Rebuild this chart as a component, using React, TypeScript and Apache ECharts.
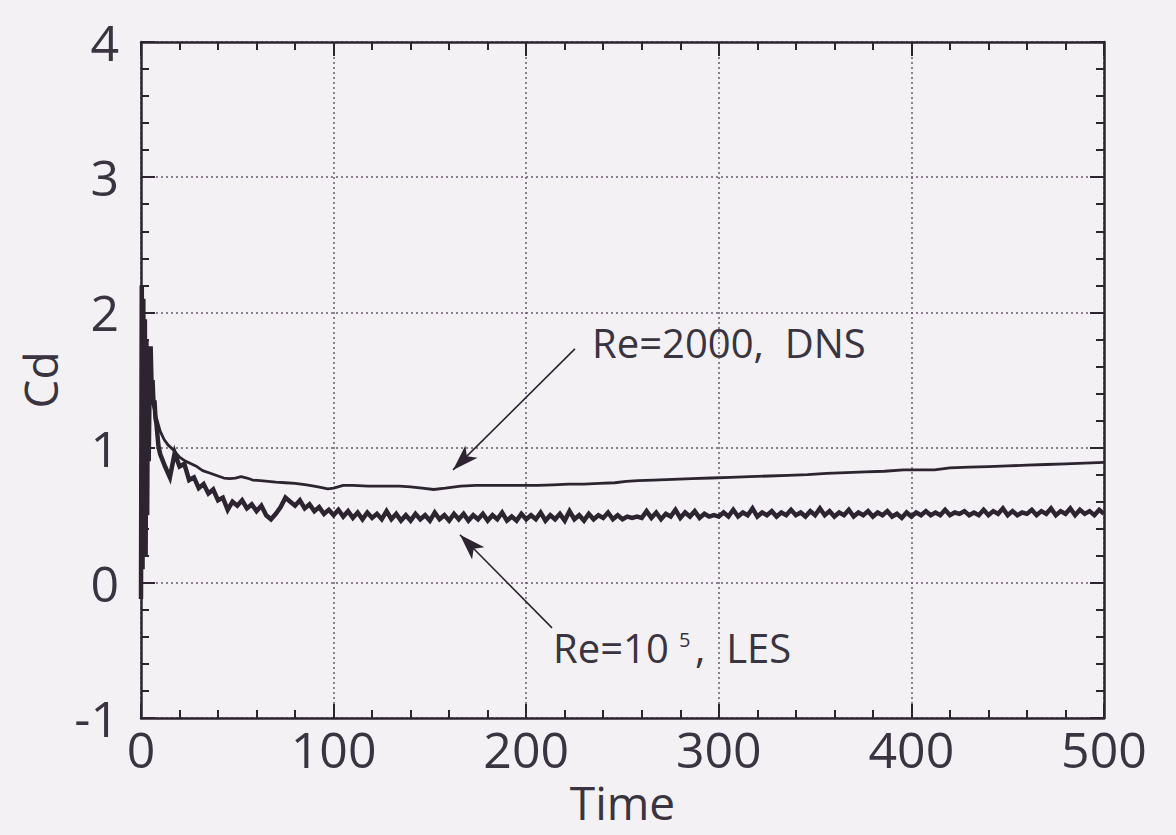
import React, { useEffect, useRef } from "react";
import * as echarts from "echarts";

// ---- data ----
const dnsTime = [
  0, 0.5, 1, 1.5, 2, 2.5, 3, 4, 5, 6, 8, 10, 12, 14, 17, 20, 23, 26, 29, 32,
  36, 40, 43, 46, 49, 52, 55, 58, 62, 66, 70, 75, 80, 86, 92, 97, 100, 105, 110, 118,
  126, 134, 140, 146, 152, 158, 166, 174, 182, 190, 198, 206, 214, 222, 230, 238, 246, 252, 258, 266,
  276, 286, 296, 306, 316, 326, 336, 346, 356, 366, 376, 386, 396, 404, 412, 420, 430, 440, 450, 460,
  470, 480, 490, 500,
];
const dnsCd = [
  0.3, 2.1, 1.0, 1.9, 0.9, 1.6, 1.2, 1.45, 1.38, 1.33, 1.22, 1.12, 1.06, 1.02, 0.98, 0.93, 0.9, 0.88, 0.86, 0.83,
  0.81, 0.79, 0.775, 0.77, 0.775, 0.785, 0.775, 0.76, 0.755, 0.75, 0.745, 0.74, 0.735, 0.725, 0.71, 0.695, 0.7, 0.72, 0.72, 0.715,
  0.715, 0.715, 0.71, 0.7, 0.69, 0.7, 0.715, 0.72, 0.72, 0.72, 0.72, 0.72, 0.725, 0.73, 0.73, 0.735, 0.74, 0.75, 0.755, 0.76,
  0.765, 0.77, 0.775, 0.78, 0.785, 0.79, 0.795, 0.8, 0.81, 0.815, 0.82, 0.825, 0.835, 0.835, 0.835, 0.85, 0.855, 0.86, 0.865, 0.87,
  0.875, 0.88, 0.885, 0.89,
];

const lesTime = [
  0, 0.4, 0.8, 1.2, 1.6, 2, 2.4, 2.8, 3.2, 3.6, 4, 4.5, 5, 5.5, 6, 6.5, 7, 7.5, 8, 8.5, 9, 9.5,
  10, 12.5, 15, 17.5, 20, 22.5, 25, 27.5,
  30, 32.5, 35, 37.5, 40, 42.5, 45, 47.5, 50, 52.5, 55, 57.5, 60, 62.5, 65, 67.5, 70, 72.5, 75, 77.5,
  80, 82.5, 85, 87.5, 90, 92.5, 95, 97.5, 100,
  102.5, 105, 107.5, 110, 112.5, 115, 117.5, 120, 122.5, 125, 127.5, 130, 132.5, 135, 137.5, 140, 142.5, 145, 147.5, 150,
  152.5, 155, 157.5, 160, 162.5, 165, 167.5, 170, 172.5, 175, 177.5, 180, 182.5, 185, 187.5, 190, 192.5, 195, 197.5, 200,
  202.5, 205, 207.5, 210, 212.5, 215, 217.5, 220, 222.5, 225, 227.5, 230, 232.5, 235, 237.5, 240, 242.5, 245, 247.5, 250,
  252.5, 255, 257.5, 260, 262.5, 265, 267.5, 270, 272.5, 275, 277.5, 280, 282.5, 285, 287.5, 290, 292.5, 295, 297.5, 300,
  302.5, 305, 307.5, 310, 312.5, 315, 317.5, 320, 322.5, 325, 327.5, 330, 332.5, 335, 337.5, 340, 342.5, 345, 347.5, 350,
  352.5, 355, 357.5, 360, 362.5, 365, 367.5, 370, 372.5, 375, 377.5, 380, 382.5, 385, 387.5, 390, 392.5, 395, 397.5, 400,
  402.5, 405, 407.5, 410, 412.5, 415, 417.5, 420, 422.5, 425, 427.5, 430, 432.5, 435, 437.5, 440, 442.5, 445, 447.5, 450,
  452.5, 455, 457.5, 460, 462.5, 465, 467.5, 470, 472.5, 475, 477.5, 480, 482.5, 485, 487.5, 490, 492.5, 495, 497.5, 500,
];
const lesCd = [
  -0.12, 2.2, 0.1, 2.1, 0.3, 1.95, 0.2, 1.8, 0.5, 1.6, 0.9, 1.5, 1.75, 1.45, 1.5, 1.32, 1.35, 1.22, 1.18, 1.1, 1.02, 0.98,
  0.95, 0.86, 0.78, 0.96, 0.86, 0.88, 0.76, 0.78,
  0.7, 0.73, 0.66, 0.69, 0.61, 0.63, 0.54, 0.6, 0.57, 0.61, 0.55, 0.58, 0.53, 0.57, 0.5, 0.47, 0.51, 0.56, 0.63, 0.6,
  0.57, 0.61, 0.55, 0.58, 0.53, 0.56, 0.51, 0.54, 0.5,
  0.54, 0.49, 0.53, 0.48, 0.52, 0.47, 0.52, 0.48, 0.51, 0.47, 0.53, 0.47, 0.51, 0.46, 0.5, 0.46, 0.51, 0.47, 0.5, 0.46,
  0.52, 0.47, 0.5, 0.46, 0.51, 0.47, 0.51, 0.46, 0.5, 0.47, 0.51, 0.46, 0.5, 0.47, 0.52, 0.46, 0.49, 0.46, 0.51, 0.47,
  0.5, 0.47, 0.52, 0.46, 0.5, 0.47, 0.51, 0.46, 0.53, 0.47, 0.5, 0.46, 0.51, 0.47, 0.5, 0.48, 0.52, 0.47, 0.5, 0.47,
  0.49, 0.48, 0.49, 0.48, 0.53, 0.48, 0.52, 0.47, 0.51, 0.49, 0.54, 0.48, 0.52, 0.49, 0.53, 0.48, 0.51, 0.49, 0.5, 0.49,
  0.52, 0.49, 0.54, 0.49, 0.52, 0.5, 0.55, 0.49, 0.52, 0.5, 0.53, 0.49, 0.52, 0.5, 0.54, 0.5, 0.52, 0.49, 0.53, 0.5,
  0.55, 0.5, 0.53, 0.49, 0.52, 0.5, 0.54, 0.49, 0.52, 0.5, 0.53, 0.49, 0.52, 0.5, 0.53, 0.49, 0.51, 0.48, 0.52, 0.49,
  0.52, 0.5, 0.53, 0.5, 0.52, 0.5, 0.54, 0.5, 0.52, 0.51, 0.53, 0.5, 0.52, 0.5, 0.54, 0.5, 0.53, 0.51, 0.55, 0.5,
  0.53, 0.5, 0.52, 0.51, 0.54, 0.5, 0.53, 0.51, 0.55, 0.5, 0.53, 0.51, 0.55, 0.5, 0.54, 0.51, 0.53, 0.5, 0.54, 0.51,
];

// annotation arrows (tail -> head), in data coordinates
const dnsArrow = [[225.3, 1.73], [162, 0.835]];
const lesArrow = [[213.4, -0.333], [165.6, 0.355]];

const xMin = 0, xMax = 500, xStep = 100;
const yMin = -1, yMax = 4, yStep = 1;

const INK = "#2c2530";
const TXT = "#3a3340";
const GRIDC = "#6b5a6d";
const FONT = "'Open Sans', 'Noto Sans', sans-serif";

function axisCommon(showLabel: boolean) {
  return {
    axisLine: { show: true, onZero: false, lineStyle: { color: INK, width: 2.5 } },
    axisTick: { show: true, inside: true, length: 14, lineStyle: { color: INK, width: 2 } },
    minorTick: { show: true, splitNumber: 5, length: 8, lineStyle: { color: INK, width: 2 } },
    axisLabel: showLabel
      ? { show: true, fontFamily: FONT, fontSize: 50, color: TXT, margin: 10 }
      : { show: false },
  };
}

export default function App() {
  const ref = useRef<HTMLDivElement>(null);
  useEffect(() => {
    if (!ref.current) return;
    const chart = echarts.init(ref.current, undefined, { renderer: "svg" });
    const arrowStyle = {
      silent: true,
      symbol: ["none", "arrow"],
      symbolSize: [13, 26],
      label: { show: false },
      lineStyle: { color: INK, width: 1.6, type: "solid" },
      emphasis: { disabled: true },
    };
    chart.setOption({
      animation: false,
      backgroundColor: "#f3f1f4",
      grid: { left: 141, right: 72, top: 42, bottom: 117, containLabel: false },
      xAxis: [
        {
          type: "value", min: xMin, max: xMax, interval: xStep, position: "bottom",
          name: "Time", nameLocation: "middle", nameGap: 58,
          nameTextStyle: { fontFamily: FONT, fontSize: 46, color: TXT },
          ...axisCommon(true),
          axisLabel: { show: true, fontFamily: FONT, fontSize: 50, color: TXT, margin: 6 },
          splitLine: { show: true, lineStyle: { type: [2, 3], color: GRIDC, width: 1.5 } },
        },
        {
          type: "value", min: xMin, max: xMax, interval: xStep, position: "top",
          ...axisCommon(false),
          splitLine: { show: false },
        },
      ],
      yAxis: [
        {
          type: "value", min: yMin, max: yMax, interval: yStep, position: "left",
          name: "Cd", nameLocation: "middle", nameGap: 78, nameRotate: 90,
          nameTextStyle: { fontFamily: FONT, fontSize: 46, color: TXT },
          ...axisCommon(true),
          axisLabel: { show: true, fontFamily: FONT, fontSize: 50, color: TXT, margin: 22 },
          splitLine: { show: true, lineStyle: { type: [2, 3], color: GRIDC, width: 1.5 } },
        },
        {
          type: "value", min: yMin, max: yMax, interval: yStep, position: "right",
          ...axisCommon(false),
          splitLine: { show: false },
        },
      ],
      series: [
        {
          name: "Re=2000, DNS",
          type: "line",
          xAxisIndex: 0, yAxisIndex: 0,
          data: dnsTime.map((t, i) => [t, dnsCd[i]]),
          showSymbol: false, symbol: "none",
          lineStyle: { color: INK, width: 2.8 },
          z: 3,
          markLine: { ...arrowStyle, data: [[{ coord: dnsArrow[0] }, { coord: dnsArrow[1] }]] },
        },
        {
          name: "Re=10^5, LES",
          type: "line",
          xAxisIndex: 0, yAxisIndex: 0,
          data: lesTime.map((t, i) => [t, lesCd[i]]),
          showSymbol: false, symbol: "none",
          lineStyle: { color: INK, width: 4.5, join: "miter" },
          z: 4,
          markLine: { ...arrowStyle, data: [[{ coord: lesArrow[0] }, { coord: lesArrow[1] }]] },
        },
      ],
      graphic: [
        {
          type: "text", left: 592, top: 322, silent: true,
          style: { text: "Re=2000,  DNS", fontFamily: FONT, fontSize: 40, fill: TXT },
        },
        {
          type: "text", left: 553, top: 627, silent: true,
          style: { text: "Re=10", fontFamily: FONT, fontSize: 40, fill: TXT },
        },
        {
          type: "text", left: 679, top: 629, silent: true,
          style: { text: "5", fontFamily: FONT, fontSize: 20, fill: TXT },
        },
        {
          type: "text", left: 695, top: 627, silent: true,
          style: { text: ",  LES", fontFamily: FONT, fontSize: 40, fill: TXT },
        },
      ],
    });
    return () => chart.dispose();
  }, []);
  return (
    <div
      ref={ref}
      style={{ position: "fixed", left: 0, top: 0, width: 1176, height: 835 }}
    />
  );
}
